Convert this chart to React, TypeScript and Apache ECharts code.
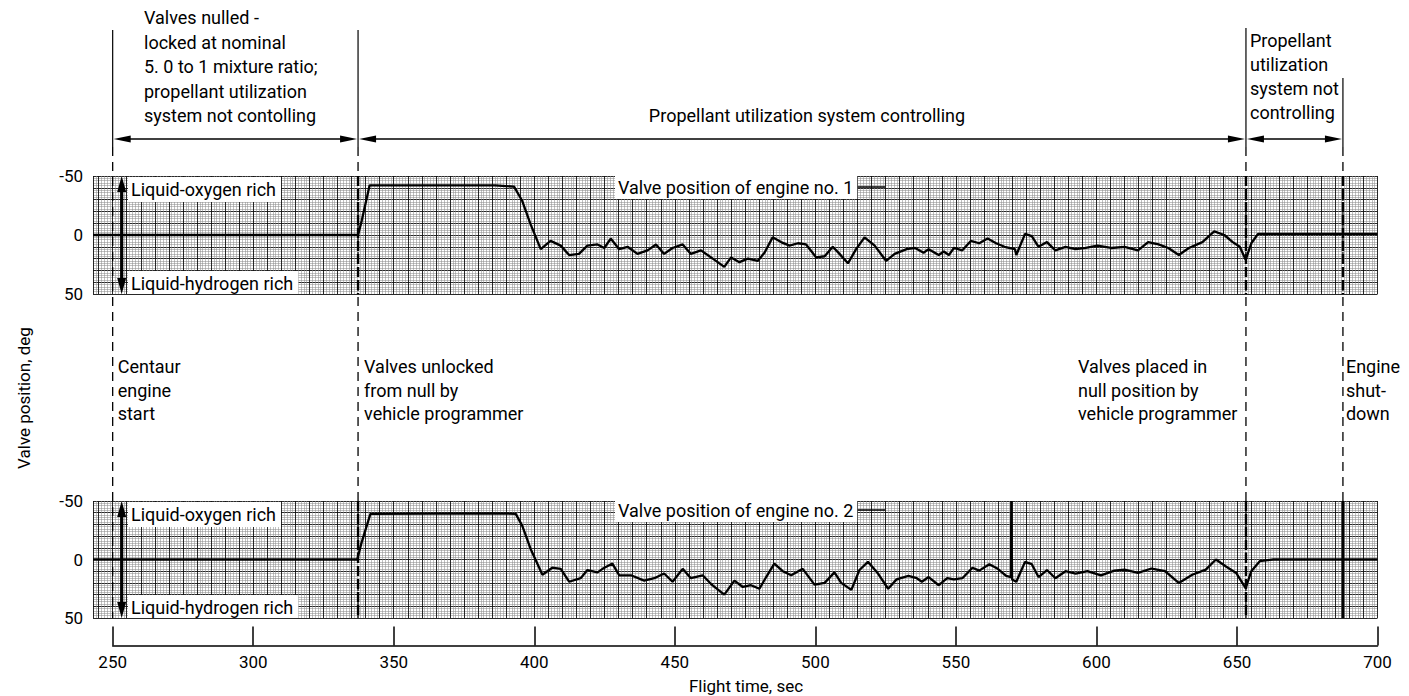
import React, { useEffect, useRef } from "react";
import * as echarts from "echarts";

// ---------- data ----------
const X_MIN = 243;
const X_MAX = 700;
const xAxisMin = 250;
const xAxisMax = 700;
const xAxisStep = 50;
const yLabelValues = [-50, 0, 50];

// valve position of engine no. 1 : [flight time s, deg]
const engine1: [number, number][] = [
  [243, 0], [337.3, 0], [338.6, -12], [341.4, -42], [386, -42], [392.8, -41],
  [395.7, -29], [398.7, -9], [402.3, 12], [405.8, 5], [409.4, 9], [412.4, 17],
  [415.9, 16], [418.9, 9], [422.5, 8], [424.9, 11], [427.2, 3], [430.2, 12],
  [433.2, 10], [436.7, 16], [440.3, 13], [443.3, 8], [446.2, 16], [449.2, 11],
  [452.8, 8], [455.7, 16], [459.3, 13], [463.5, 20], [467.6, 27], [470, 19],
  [473, 23], [476, 20], [479.5, 22], [481.9, 15], [484.8, 2], [487.8, 6],
  [490.8, 9], [493.8, 7], [496.7, 8], [500.3, 19], [503.3, 18], [506.2, 10],
  [508.6, 16], [511.6, 24], [514.5, 12], [517.5, 2], [521.1, 9], [525.2, 22],
  [528.2, 16], [532.5, 12], [535.5, 11], [538.5, 15], [540.3, 12], [543.9, 17],
  [545.7, 14], [547.5, 17], [549.3, 11], [552.3, 13], [555.3, 5], [558.3, 7],
  [561.3, 3], [564.3, 7], [567.3, 10], [571, 12], [571.5, 17], [574.6, -1],
  [577, 1], [579.4, 10], [582.4, 6], [585.4, 13], [589, 10], [592.6, 12],
  [596.2, 11], [600.4, 9], [605.2, 11], [610, 10], [614.8, 13], [618.4, 6],
  [622.1, 8], [625.6, 11], [629.3, 17], [632.9, 11], [637.7, 6], [641.9, -3],
  [645.5, 0], [648.5, 6], [651, 10], [653.1, 21], [655.1, 7], [657.5, -1],
  [661.7, -1], [700, -1],
];

// valve position of engine no. 2 : [flight time s, deg]
const engine2: [number, number][] = [
  [243, 0], [337, 0], [338.5, -14], [341.7, -39], [386, -39.5], [393.4, -39],
  [395.7, -29], [398.7, -9], [402.9, 13], [406.4, 7], [409.4, 8], [412.4, 19],
  [416.5, 16], [418.9, 9], [422.5, 11], [424.3, 8], [427.8, 3.5], [430.2, 13.5],
  [434.4, 13.5], [439.1, 18], [442.7, 16], [446.2, 12], [449.2, 19], [452.8, 8],
  [455.7, 16], [459.9, 13.5], [462.9, 21], [467.6, 30], [471.2, 18], [474.2, 23.5],
  [477.1, 22], [480.1, 25], [482.5, 15], [485.4, 3.5], [488.4, 10], [491.4, 13.5],
  [495.5, 8], [499.7, 21.5], [503.3, 20], [506.8, 11], [509.2, 20], [512.8, 26],
  [515.7, 9], [518.7, 2], [522.3, 12], [525.9, 25], [528.9, 17], [533.1, 14],
  [536.1, 16], [537.9, 19], [540.3, 15], [543.9, 22], [546.9, 16], [549.3, 17],
  [552.3, 16], [555.9, 7], [558.3, 9.5], [561.9, 4], [564.9, 8], [567.9, 14],
  [569.6, 15], [569.7, -50], [569.9, -50], [570.0, 17], [571.5, 19], [574.6, 2],
  [577, 4], [579.4, 15], [582.4, 9], [585.4, 16], [589, 10], [592.6, 12],
  [596.8, 10], [601.6, 13.5], [606.4, 9.5], [610, 8.6], [614.8, 11.5], [619.6, 7.7],
  [624.4, 10], [629.3, 20], [634.1, 13], [638.9, 8.6], [642.5, 0], [646.1, 6],
  [649.7, 11.5], [653.1, 24.5], [655.1, 10], [658.1, 1.4], [662.9, 0], [700, 0],
];

// event times (s): engine start, valves unlocked, valves nulled, engine shutdown
const eventTimes = [250, 337.3, 653.2, 687.7];

const topLeftText = [
  "Valves nulled -",
  "locked at nominal",
  "5. 0 to 1 mixture ratio;",
  "propellant utilization",
  "system not contolling",
];
const topMidText = "Propellant utilization system controlling";
const topRightText = ["Propellant", "utilization", "system not", "controlling"];
const midTexts = [
  ["Centaur", "engine", "start"],
  ["Valves unlocked", "from null by", "vehicle programmer"],
  ["Valves placed in", "null position by", "vehicle programmer"],
  ["Engine", "shut-", "down"],
];

// ---------- layout ----------
const FONT = "Roboto, 'Noto Sans', sans-serif";
const PLOT_LEFT = 93;
const PLOT_RIGHT = 31.5;
const W = 1409;
const PLOT_W = W - PLOT_LEFT - PLOT_RIGHT;
const AXIS_LEFT = PLOT_LEFT + ((xAxisMin - X_MIN) / (X_MAX - X_MIN)) * PLOT_W;
const P1 = { top: 176, h: 118 };
const P2 = { top: 501, h: 117 };
const ARROW_Y = 139;
const MAJOR = { color: "#111", width: 0.9 };
const MINOR = { color: "#8e8e8e", width: 0.55 };

function plotX(id: number) {
  return {
    gridIndex: id,
    type: "value",
    min: X_MIN,
    max: X_MAX,
    splitNumber: 91,
    axisLine: { show: false },
    axisTick: { show: false },
    axisLabel: { show: false },
    splitLine: { show: true, lineStyle: MAJOR },
    minorTick: { show: false, splitNumber: 5 },
    minorSplitLine: { show: true, lineStyle: MINOR },
  };
}
function plotY(id: number) {
  return {
    gridIndex: id,
    type: "value",
    min: -50,
    max: 50,
    interval: 10,
    inverse: true,
    axisLine: { show: false },
    axisTick: { show: false },
    axisLabel: {
      formatter: (v: number) => (yLabelValues.includes(v) ? String(v) : ""),
      fontSize: 17,
      color: "#000",
      margin: 10,
      fontFamily: FONT,
    },
    splitLine: { show: true, lineStyle: MAJOR },
    minorTick: { show: false, splitNumber: 5 },
    minorSplitLine: { show: true, lineStyle: MINOR },
  };
}

function head(x: number, y: number, dir: string, len = 17, hw = 3.6) {
  let pts: number[][];
  if (dir === "left") pts = [[x, y], [x + len, y - hw], [x + len, y + hw]];
  else if (dir === "right") pts = [[x, y], [x - len, y - hw], [x - len, y + hw]];
  else if (dir === "up") pts = [[x, y], [x - hw, y + len], [x + hw, y + len]];
  else pts = [[x, y], [x - hw, y - len], [x + hw, y - len]];
  return { type: "polygon", z: 120, shape: { points: pts }, style: { fill: "#000" } };
}
function line(x1: number, y1: number, x2: number, y2: number, w = 1.3, dash?: number[], z = 110) {
  return {
    type: "line",
    z,
    shape: { x1, y1, x2, y2 },
    style: { stroke: "#000", lineWidth: w, lineDash: dash || null },
  };
}
function text(str: string, x: number, y: number, opts: any = {}) {
  const align = opts.align || "left";
  const valign = opts.valign || "middle";
  return {
    type: "text",
    z: opts.z || 130,
    x,
    y,
    rotation: opts.rotation || 0,
    style: {
      text: str,
      fill: "#000",
      fontSize: opts.size || 18,
      fontFamily: FONT,
      align,
      textAlign: align,
      verticalAlign: valign,
      textVerticalAlign: valign,
      lineHeight: opts.lineHeight,
      backgroundColor: opts.bg,
      padding: opts.padding,
    },
  };
}

export default function App() {
  const ref = useRef<HTMLDivElement>(null);
  useEffect(() => {
    if (!ref.current) return;
    const chart = echarts.init(ref.current, null, { renderer: "svg" });
    chart.setOption({
      animation: false,
      backgroundColor: "#fff",
      grid: [
        { left: PLOT_LEFT, right: PLOT_RIGHT, top: P1.top, height: P1.h },
        { left: PLOT_LEFT, right: PLOT_RIGHT, top: P2.top, height: P2.h },
        { left: AXIS_LEFT, right: PLOT_RIGHT, top: 626, height: 19.5 },
      ],
      xAxis: [
        plotX(0),
        plotX(1),
        {
          gridIndex: 2,
          type: "value",
          min: xAxisMin,
          max: xAxisMax,
          interval: xAxisStep,
          axisLine: { show: true, lineStyle: { color: "#000", width: 1.5 } },
          axisTick: { show: true, inside: true, length: 19, lineStyle: { color: "#000", width: 1.5 } },
          axisLabel: { fontSize: 17, color: "#000", margin: 8, fontFamily: FONT },
          splitLine: { show: false },
        },
      ],
      yAxis: [plotY(0), plotY(1), { gridIndex: 2, show: false, min: 0, max: 1 }],
      series: [
        {
          type: "line",
          xAxisIndex: 0,
          yAxisIndex: 0,
          data: engine1,
          showSymbol: false,
          silent: true,
          z: 5,
          lineStyle: { color: "#000", width: 2.3 },
        },
        {
          type: "line",
          xAxisIndex: 1,
          yAxisIndex: 1,
          data: engine2,
          showSymbol: false,
          silent: true,
          z: 5,
          lineStyle: { color: "#000", width: 2.3 },
        },
      ],
    });

    const px = (t: number) => chart.convertToPixel({ xAxisIndex: 2 }, t) as number;
    const ex = eventTimes.map(px);
    const g: any[] = [];

    // event lines
    const tops = [30, 30, 28, 78];
    ex.forEach((x, i) => {
      g.push(line(x, tops[i], x, 147, 1.2));
      g.push(line(x, 147, x, 618, 1.3, [9, 6]));
      if (i > 0) {
        g.push(line(x, P1.top, x, P1.top + P1.h, 2.4, [10, 3]));
        g.push(line(x, P2.top, x, P2.top + P2.h, i === 3 ? 3 : 2.4, i === 3 ? undefined : [10, 3]));
      }
    });

    // horizontal double arrows
    for (let i = 0; i < 3; i++) {
      const a = ex[i] + 1;
      const b = ex[i + 1] - 1;
      g.push(line(a + 8, ARROW_Y, b - 8, ARROW_Y, 1.5));
      g.push(head(a, ARROW_Y, "left"));
      g.push(head(b, ARROW_Y, "right"));
    }

    // texts at top
    g.push(text(topLeftText.join("\n"), 144, 5.5, { valign: "top", lineHeight: 24.5 }));
    g.push(text(topMidText, (ex[1] + ex[2]) / 2 + 5, 115, { align: "center" }));
    g.push(text(topRightText.join("\n"), ex[2] + 4, 28, { valign: "top", lineHeight: 24 }));

    // texts in the middle
    const midX = [ex[0] + 5, ex[1] + 6, 1078, ex[3] + 3];
    midTexts.forEach((lines, i) => {
      g.push(text(lines.join("\n"), midX[i], 355, { valign: "top", lineHeight: 23.5 }));
    });

    // rich-direction labels and arrows in each plot
    [P1, P2].forEach((p, k) => {
      const ax = ex[0] + 9;
      g.push(line(ax, p.top + 12, ax, p.top + p.h - 12, 3.2));
      g.push(head(ax, p.top, "up", 16, 4.5));
      g.push(head(ax, p.top + p.h, "down", 16, 4.5));
      g.push(
        text("Liquid-oxygen rich", 128, p.top + 1, {
          valign: "top",
          bg: "#fff",
          padding: [3, 5, 4, 3],
        })
      );
      g.push(
        text("Liquid-hydrogen rich", 128, p.top + p.h, {
          valign: "bottom",
          bg: "#fff",
          padding: [3, 5, 2, 3],
        })
      );
      const labY = k === 0 ? 187 : 510;
      g.push(line(850, labY, 885, labY, 1.5, undefined, 125));
      g.push(
        text("Valve position of engine no. " + (k + 1), 615, labY, {
          bg: "#fff",
          padding: [3, 4, 3, 3],
        })
      );
    });

    // axis titles
    g.push(text("Valve position, deg", 24, 398, { align: "center", rotation: Math.PI / 2, size: 17 }));
    g.push(text("Flight time, sec", 746, 686, { align: "center", size: 17 }));

    chart.setOption({ graphic: { elements: g } });
    return () => chart.dispose();
  }, []);

  return (
    <div
      ref={ref}
      style={{ position: "absolute", left: 0, top: 0, width: 1409, height: 696, background: "#fff" }}
    />
  );
}
